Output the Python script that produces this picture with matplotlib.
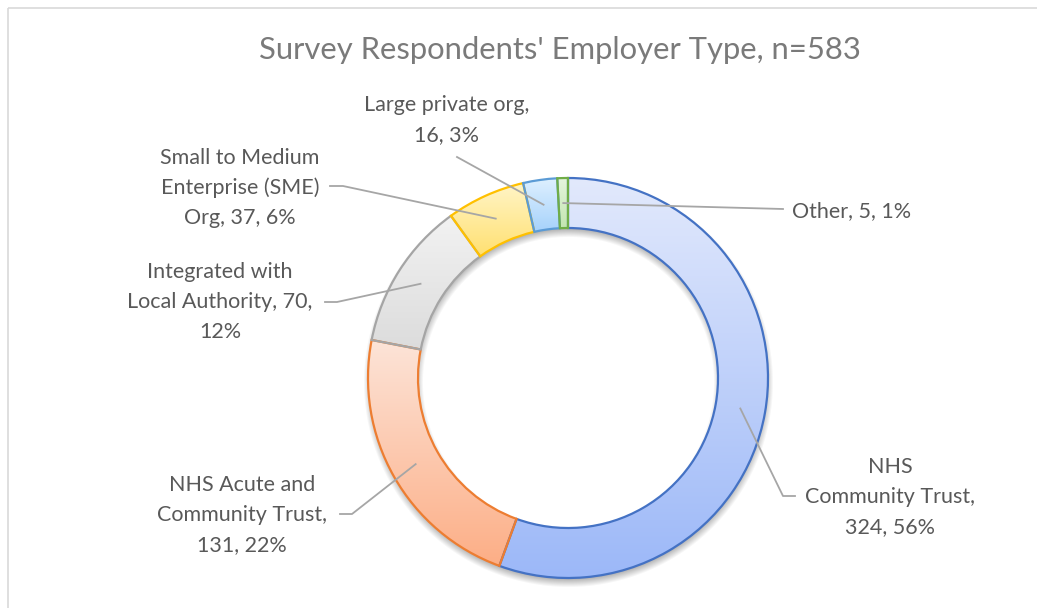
import numpy as np
import matplotlib
matplotlib.use("Agg")
import matplotlib.pyplot as plt
from matplotlib.patches import Wedge, Rectangle
from matplotlib.colors import to_rgb

title = "Survey Respondents' Employer Type, n=583"
categories = ["NHS\nCommunity Trust", "NHS Acute and\nCommunity Trust",
              "Integrated with\nLocal Authority", "Small to Medium\nEnterprise (SME)\nOrg",
              "Large private org", "Other"]
counts = [324, 131, 70, 37, 16, 5]
label_texts = ["NHS\nCommunity Trust,\n324, 56%",
               "NHS Acute and\nCommunity Trust,\n131, 22%",
               "Integrated with\nLocal Authority, 70,\n12%",
               "Small to Medium\nEnterprise (SME)\nOrg, 37, 6%",
               "Large private org,\n16, 3%",
               "Other, 5, 1%"]

# fill gradient (top, bottom) and outline colour for each slice
grad_top = ["#e2e9fc", "#fde4d8", "#f2f2f2", "#fff5c8", "#def0ff", "#e6f5de"]
grad_bot = ["#9cb8f8", "#fcae86", "#dcdcdc", "#ffe071", "#a6d2fb", "#c3e6b1"]
edges = ["#4472c4", "#ed7d31", "#a5a5a5", "#ffc000", "#5b9bd5", "#70ad47"]

W, H = 1037, 608
fig = plt.figure(figsize=(W / 100, H / 100), dpi=100)
ax = fig.add_axes([0, 0, 1, 1])
ax.set_xlim(0, W)
ax.set_ylim(H, 0)
ax.axis("off")

# chart frame
ax.add_patch(Rectangle((7.5, 7.5), W, H, fill=False, ec="#d9d9d9", lw=1.2, zorder=0))

cx, cy, r_out, ring = 568, 378, 200, 50

# soft shadow under the ring
yy, xx = np.mgrid[150:610, 340:800]
d = np.hypot(xx - cx, yy - (cy + 4))
s = 5.0
a = np.clip((r_out + s - d) / (2 * s), 0, 1) * np.clip((d - (r_out - ring - s)) / (2 * s), 0, 1)
shadow = np.zeros(a.shape + (4,))
shadow[..., 3] = a * 0.35
ax.imshow(shadow, extent=(340, 800, 610, 150), zorder=1, interpolation="bilinear")

total = sum(counts)
fracs = np.array(counts) / total
starts = np.concatenate([[0], np.cumsum(fracs)[:-1]])

mids = []
for i, f in enumerate(fracs):
    t1 = -90 + 360 * starts[i]
    t2 = -90 + 360 * (starts[i] + f)
    w = Wedge((cx, cy), r_out, t1, t2, width=ring, fc="none", ec=edges[i], lw=1.6, zorder=3)
    ax.add_patch(w)
    ext = w.get_path().get_extents()
    c0, c1 = np.array(to_rgb(grad_top[i])), np.array(to_rgb(grad_bot[i]))
    t = np.linspace(0, 1, 200)[:, None]
    img = (c0 * (1 - t) + c1 * t)[:, None, :]
    im = ax.imshow(img, extent=(ext.x0, ext.x1, ext.y1, ext.y0), aspect="auto",
                   interpolation="bilinear", zorder=2)
    im.set_clip_path(w)
    mids.append(np.deg2rad((t1 + t2) / 2))

ax.set_xlim(0, W)
ax.set_ylim(H, 0)
ax.set_aspect("auto")

# label anchor (text centre) and leader start points, in pixels
label_pos = [(890, 497), (242, 515), (220, 302), (240, 188), (447, 120), (792, 211)]
leader_start = [[(795, 496), (783, 496)],
                [(340, 514), (352, 514)],
                [(325, 302), (337, 302)],
                [(330, 186), (343, 186)],
                [(457, 157)],
                [(783, 209)]]

font = dict(family="Lato", fontsize=15.5, color="#595959")
for i, txt in enumerate(label_texts):
    x, y = label_pos[i]
    if i == 5:
        ax.text(x, y, txt, ha="left", va="center", linespacing=1.6, **font)
    else:
        ax.text(x, y, txt, ha="center", va="center", multialignment="center",
                linespacing=1.6, **font)
    px = cx + (r_out - ring / 2) * np.cos(mids[i])
    py = cy + (r_out - ring / 2) * np.sin(mids[i])
    pts = leader_start[i] + [(px, py)]
    ax.plot([p[0] for p in pts], [p[1] for p in pts], color="#a6a6a6", lw=1.3, zorder=4)

ax.text(560, 50, title, ha="center", va="center", family="Lato",
        fontsize=22.3, color="#7a7a7a")

fig.savefig("out.png", dpi=100)
